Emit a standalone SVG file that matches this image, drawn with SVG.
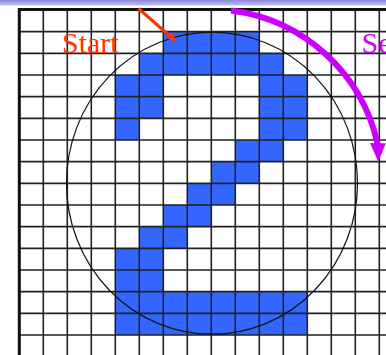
<svg xmlns="http://www.w3.org/2000/svg" width="386" height="355" viewBox="0 0 386 355">
<defs>
<linearGradient id="band" x1="0" y1="0" x2="0" y2="1">
<stop offset="0" stop-color="#8888d8"/>
<stop offset="1" stop-color="#c0c0f0"/>
</linearGradient>
<style>
.cell{fill:#3366ff}
.grid{stroke:#222;stroke-width:1.6;fill:none}
.border{stroke:#111;stroke-width:3;fill:none}
.lbl{font-family:"Liberation Serif","Times New Roman",serif;font-size:30px}
</style>
</defs>
<rect x="0" y="0" width="386" height="355" fill="#fff"/>
<rect x="0" y="0" width="386" height="5.5" fill="url(#band)"/>
<g id="digit">
<rect class="cell" x="163.3" y="31.67" width="96" height="21.67"/>
<rect class="cell" x="139.3" y="53.33" width="144" height="21.67"/>
<rect class="cell" x="115.3" y="75" width="48" height="43.33"/>
<rect class="cell" x="115.3" y="118.33" width="24" height="21.67"/>
<rect class="cell" x="259.3" y="75" width="48" height="65"/>
<rect class="cell" x="235.3" y="140" width="48" height="21.67"/>
<rect class="cell" x="211.3" y="161.67" width="48" height="21.67"/>
<rect class="cell" x="187.3" y="183.33" width="48" height="21.67"/>
<rect class="cell" x="163.3" y="205" width="48" height="21.67"/>
<rect class="cell" x="139.3" y="226.67" width="48" height="21.67"/>
<rect class="cell" x="115.3" y="248.33" width="48" height="43.34"/>
<rect class="cell" x="115.3" y="291.67" width="192" height="43.33"/>
</g>
<g id="grid">
<path class="grid" d="M43.3,10V355M67.3,10V355M91.3,10V355M115.3,10V355M139.3,10V355M163.3,10V355M187.3,10V355M211.3,10V355M235.3,10V355M259.3,10V355M283.3,10V355M307.3,10V355M331.3,10V355M355.3,10V355M379.3,10V355"/>
<path class="grid" d="M19.3,31.67H386M19.3,53.33H386M19.3,75H386M19.3,96.67H386M19.3,118.33H386M19.3,140H386M19.3,161.67H386M19.3,183.33H386M19.3,205H386M19.3,226.67H386M19.3,248.33H386M19.3,270H386M19.3,291.67H386M19.3,313.33H386M19.3,335H386"/>
<path class="border" d="M19.3,355V9.5H386"/>
</g>
<g id="circle">
<ellipse cx="212" cy="183.2" rx="145.5" ry="151" fill="none" stroke="#111" stroke-width="1.2"/>
</g>
<g id="start-label">
<text class="lbl" x="62" y="53.3" fill="#ff3300">Start</text>
</g>
<g id="se-label">
<text class="lbl" x="361.5" y="53.3" fill="#cc00ff">Se</text>
</g>
<g id="connectors">
<line x1="138.5" y1="8.5" x2="171" y2="37" stroke="#ff3300" stroke-width="3"/>
<polygon points="177,42 167.9,38.7 172.6,33.4" fill="#ff3300"/>
<path d="M231,10.5A172,172 0 0 1 377.6,144" fill="none" stroke="#cc00ff" stroke-width="6"/>
<polygon points="370,143 385.7,143.3 378.3,161.7" fill="#cc00ff"/>
</g>
</svg>
